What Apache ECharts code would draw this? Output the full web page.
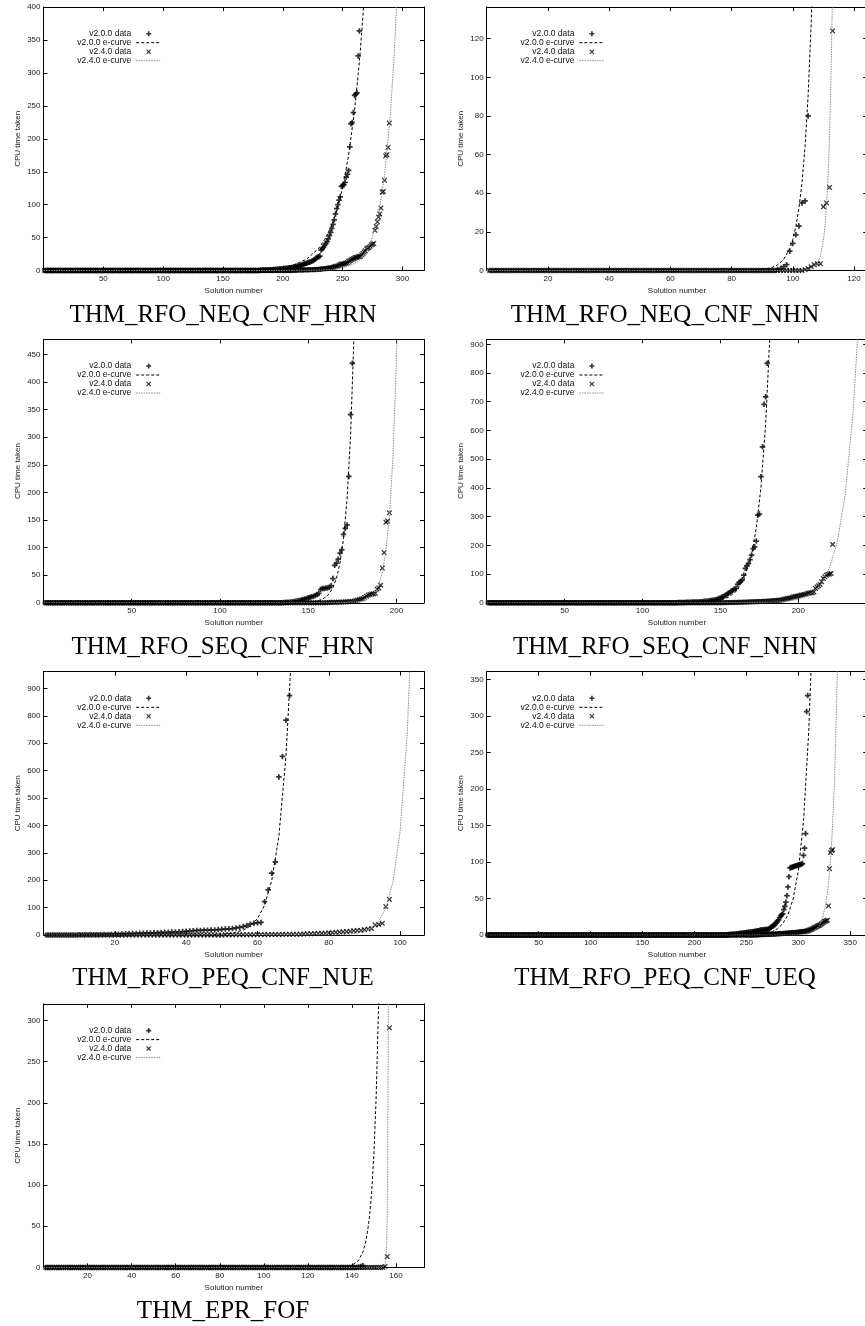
<!DOCTYPE html>
<html>
<head>
<meta charset="utf-8">
<title>CPU time taken per solution</title>
<script src="https://cdn.jsdelivr.net/npm/echarts@6/dist/echarts.min.js"></script>
<style>
  html, body { margin: 0; padding: 0; background: #fff; }
  #chart { width: 865px; height: 1326px; }
</style>
</head>
<body>
<div id="chart"></div>
<script>
// CPU time taken per solution number (one value per solution, from 1)
const neqHrn200 = [
  0,0,0,0,0,0,0,0,0,0, 0,0,0,0,0,0,0,0,0,0,
  0,0,0,0,0,0,0,0,0,0, 0,0,0,0,0,0,0,0,0,0,
  0,0,0,0,0,0,0,0,0,0, 0,0,0,0,0,0,0,0,0,0,
  0,0,0,0,0,0,0,0,0,0, 0,0,0,0,0,0,0,0,0,0,
  0,0,0,0,0,0,0,0,0,0, 0,0,0,0,0,0,0,0,0,0,
  0,0,0,0,0,0,0,0,0,0, 0,0,0,0,0,0,0,0,0,0,
  0,0,0,0,0,0,0,0,0,0, 0,0,0,0,0,0,0,0,0,0,
  0,0,0,0,0,0,0,0,0,0, 0,0,0,0,0,0,0,0,0,0,
  0,0,0,0,0,0,0,0,0,0, 0,0,0,0,0,0,0,0,0,0,
  0.5,0.5,0.6,0.7,0.8,0.9,1,1,1.1,1.2,1.3,1.4,1.5,1.6,1.8,
  2,2.2,2.4,2.6,2.8,3,3.2,3.4,3.6,3.8,4,4.2,4.5,5,5.5,
  6,6.5,7,7.5,8,8.5,9,10,10.5,11,12,12.5,13,14,15,
  16,17,19,20,21,22,31,33,35,38,41,44,48,53,58,64,70,77,86,94,100,107,112,128,129,130,134,
  142,146,152,188,223,225,240,266,268,270,326,364
];
const neqHrn240 = [
  0,0,0,0,0,0,0,0,0,0, 0,0,0,0,0,0,0,0,0,0,
  0,0,0,0,0,0,0,0,0,0, 0,0,0,0,0,0,0,0,0,0,
  0,0,0,0,0,0,0,0,0,0, 0,0,0,0,0,0,0,0,0,0,
  0,0,0,0,0,0,0,0,0,0, 0,0,0,0,0,0,0,0,0,0,
  0,0,0,0,0,0,0,0,0,0, 0,0,0,0,0,0,0,0,0,0,
  0,0,0,0,0,0,0,0,0,0, 0,0,0,0,0,0,0,0,0,0,
  0,0,0,0,0,0,0,0,0,0, 0,0,0,0,0,0,0,0,0,0,
  0,0,0,0,0,0,0,0,0,0, 0,0,0,0,0,0,0,0,0,0,
  0,0,0,0,0,0,0,0,0,0, 0,0,0,0,0,0,0,0,0,0,
  0,0,0,0,0,0,0,0,0,0, 0,0,0,0,0,0,0,0,0,0,
  0,0,0,0,0, 0,0,0,0,
  0.5,0.5,0.6,0.6,0.7,0.7,0.8,0.8,0.9,0.9,1,1,1.1,1.1,1.2,1.2,1.3,1.4,1.5,1.6,
  1.8,2,2.2,2.4,2.6,2.8,3,3.2,3.5,3.8,4,4.5,5,5.5,6,
  6.5,7,8,9,10,10,10,11,11,12,14,15,16,17,18,
  19,20,20,21,21,22,24,26,28,30,33,34,35,37,39,40,41,
  61,67,74,81,86,95,119,120,137,174,176,187,224
];
const neqNhn200 = [
  0,0,0,0,0,0,0,0,0,0, 0,0,0,0,0,0,0,0,0,0,
  0,0,0,0,0,0,0,0,0,0, 0,0,0,0,0,0,0,0,0,0,
  0,0,0,0,0,0,0,0,0,0, 0,0,0,0,0,0,0,0,0,0,
  0,0,0,0,0,0,0,0,0,0, 0,0,0,0,0,0,0,0,0,0,
  0,0,0,0,0,0,0,0,0,0, 0,0,0,0,
  0.5,1,2,3,10,14,18.5,23,35,36,80
];
const neqNhn240 = [
  0,0,0,0,0,0,0,0,0,0, 0,0,0,0,0,0,0,0,0,0,
  0,0,0,0,0,0,0,0,0,0, 0,0,0,0,0,0,0,0,0,0,
  0,0,0,0,0,0,0,0,0,0, 0,0,0,0,0,0,0,0,0,0,
  0,0,0,0,0,0,0,0,0,0, 0,0,0,0,0,0,0,0,0,0,
  0,0,0,0,0,0,0,0,0,0, 0,0,0,0,0,0,0,0,0,0,
  0,0,0,
  0.5,1,2,3,3.5,3.5,33,35,43,124
];
const seqHrn200 = [
  0,0,0,0,0,0,0,0,0,0, 0,0,0,0,0,0,0,0,0,0,
  0,0,0,0,0,0,0,0,0,0, 0,0,0,0,0,0,0,0,0,0,
  0,0,0,0,0,0,0,0,0,0, 0,0,0,0,0,0,0,0,0,0,
  0,0,0,0,0,0,0,0,0,0, 0,0,0,0,0,0,0,0,0,0,
  0,0,0,0,0,0,0,0,0,0, 0,0,0,0,0,0,0,0,0,0,
  0,0,0,0,0,0,0,0,0,0, 0,0,0,0,0,0,0,0,0,0,
  0,0,0,0,0,0,0,0,0,0, 0,0,0,0,0,
  0.5,0.7,1,1.2,1.5,2,2.5,3,3.5,4,
  5,6,7,8,9,10,11,12,13,15,17,
  24,26,26,27,27,28,31,44,68,72,79,90,96,124,135,141,229,341,434
];
const seqHrn240 = [
  0,0,0,0,0,0,0,0,0,0, 0,0,0,0,0,0,0,0,0,0,
  0,0,0,0,0,0,0,0,0,0, 0,0,0,0,0,0,0,0,0,0,
  0,0,0,0,0,0,0,0,0,0, 0,0,0,0,0,0,0,0,0,0,
  0,0,0,0,0,0,0,0,0,0, 0,0,0,0,0,0,0,0,0,0,
  0,0,0,0,0,0,0,0,0,0, 0,0,0,0,0,0,0,0,0,0,
  0,0,0,0,0,0,0,0,0,0, 0,0,0,0,0,0,0,0,0,0,
  0,0,0,0,0,0,0,0,0,0, 0,0,0,0,0,0,0,0,0,0,
  0,0,0,0,0,0,0,0,0,0, 0,0,0,0,0,0,0,0,0,0,
  0.5,0.6,0.7,0.8,0.9,1,1.1,1.2,1.3,1.4,1.5,1.7,1.9,2.2,2.5,
  3,4,5,6,7,8,10,12,14,15,16,16,17,25,27,32,
  63,91,146,148,163
];
const seqNhn200 = [
  0,0,0,0,0,0,0,0,0,0, 0,0,0,0,0,0,0,0,0,0,
  0,0,0,0,0,0,0,0,0,0, 0,0,0,0,0,0,0,0,0,0,
  0,0,0,0,0,0,0,0,0,0, 0,0,0,0,0,0,0,0,0,0,
  0,0,0,0,0,0,0,0,0,0, 0,0,0,0,0,0,0,0,0,0,
  0,0,0,0,0,0,0,0,0,0, 0,0,0,0,0,0,0,0,0,0,
  0,0,0,0,0,0,0,0,0,0, 0,0,0,0,0,0,0,0,0,0,
  0.5,0.6,0.7,0.8,1,1.2,1.4,1.6,1.8,2,2.2,2.4,2.6,2.8,3,
  3,3.5,4,4.5,5,5.5,6,7,8,9,
  10,11,12,15,17,20,22,25,29,33,36,41,44,48,50,
  64,71,75,80,96,120,129,137,150,166,189,195,215,305,309,439,543,691,717,834
];
const seqNhn240 = [
  0,0,0,0,0,0,0,0,0,0, 0,0,0,0,0,0,0,0,0,0,
  0,0,0,0,0,0,0,0,0,0, 0,0,0,0,0,0,0,0,0,0,
  0,0,0,0,0,0,0,0,0,0, 0,0,0,0,0,0,0,0,0,0,
  0,0,0,0,0,0,0,0,0,0, 0,0,0,0,0,0,0,0,0,0,
  0,0,0,0,0,0,0,0,0,0, 0,0,0,0,0,0,0,0,0,0,
  0,0,0,0,0,0,0,0,0,0, 0,0,0,0,0,0,0,0,0,0,
  0,0,0,0,0,0,0,0,0,0, 0,0,0,0,0,0,0,0,0,0,
  0,0,0,0,0,0,0,0,0,0,
  0.5,0.6,0.7,0.8,0.9,1,1.1,1.2,1.3,1.4,1.5,1.7,1.9,2.1,2.3,2.5,2.7,2.9,3.1,3.3,
  3.5,3.7,3.9,4.1,4.3,4.5,4.7,5,5.3,5.6,6,6.4,6.8,7.2,7.6,8,8.5,9,
  9.4,11,13,14,15,16,17,19,21,22,23,24,25,27,28,29,30,33,34,35,35,
  38,50,55,59,64,73,85,91,96,99,100,102,203
];
const peqNue200 = [
  0,0,0,0,0,0,0.5,0.5,0.5,1,1,1,1.5,1.5,1.5,2,2,2.5,2.5,
  3,3.5,4,4.5,5,5.5,6,6.5,7,7.5,8,
  8.5,9,9.5,10,10.5,11,11.5,12,13,14,15,
  16,17,17,18,18,19,19,20,21,
  22,23,24,26,28,31,35,
  40,43,45,46,122,165,226,267,577,652,784,874
];
const peqNue240 = [
  0,0,0,0,0,0,0,0,0,0, 0,0,0,0,0,0,0,0,0,0,
  0,0,0,0,0,0,0,0,0,0, 0,0,0,0,0,0,0,0,0,0,
  0,0,0,0,0,0,0,0,0,0,
  1,1,1.1,1.2,1.3,1.4,1.5,1.6,1.7,1.8,1.9,2,2.1,2.2,2.4,2.5,2.6,2.8,2.9,3,
  3,3.5,4,4.5,5,5.5,6,6.5,7,8,9,10,11,12,13,14,16,17,17,
  20,22,24,37,39,43,104,130
];
const peqUeq200 = [
  0,0,0,0,0,0,0,0,0,0, 0,0,0,0,0,0,0,0,0,0,
  0,0,0,0,0,0,0,0,0,0, 0,0,0,0,0,0,0,0,0,0,
  0,0,0,0,0,0,0,0,0,0, 0,0,0,0,0,0,0,0,0,0,
  0,0,0,0,0,0,0,0,0,0, 0,0,0,0,0,0,0,0,0,0,
  0,0,0,0,0,0,0,0,0,0, 0,0,0,0,0,0,0,0,0,0,
  0,0,0,0,0,0,0,0,0,0, 0,0,0,0,0,0,0,0,0,0,
  0,0,0,0,0,0,0,0,0,0, 0,0,0,0,0,0,0,0,0,0,
  0,0,0,0,0,0,0,0,0,0, 0,0,0,0,0,0,0,0,0,0,
  0,0,0,0,0,0,0,0,0,0, 0,0,0,0,0,0,0,0,0,0,
  0,0,0,0,0,0,0,0,0,0, 0,0,0,0,0,0,0,0,0,0,
  0,0,0,0,0,0,0,0,0,0, 0,0,0,0,0,0,0,0,0,0,
  0,0,0,0,0,0,0,0,0,0,
  0.5,0.6,0.7,0.8,0.9,1,1.1,1.2,1.3,1.5,1.7,1.9,2.1,2.3,2.5,2.7,2.9,3.1,3.3,3.5,
  3.6,3.8,4,4.2,4.4,4.6,4.8,5,5.3,5.6,6,6,6.5,7,7,7,7.3,7.5,7.5,7.8,8,8.3,
  10,11,12,12.8,14,16,17.4,19,21,24,26.6,28,29,35,39.5,45,54,66,80,
  92,92.5,93,93.5,94,94.5,95,95.5,96,96,96.5,97,98,109,119,139,306,328
];
const peqUeq240 = [
  0,0,0,0,0,0,0,0,0,0, 0,0,0,0,0,0,0,0,0,0,
  0,0,0,0,0,0,0,0,0,0, 0,0,0,0,0,0,0,0,0,0,
  0,0,0,0,0,0,0,0,0,0, 0,0,0,0,0,0,0,0,0,0,
  0,0,0,0,0,0,0,0,0,0, 0,0,0,0,0,0,0,0,0,0,
  0,0,0,0,0,0,0,0,0,0, 0,0,0,0,0,0,0,0,0,0,
  0,0,0,0,0,0,0,0,0,0, 0,0,0,0,0,0,0,0,0,0,
  0,0,0,0,0,0,0,0,0,0, 0,0,0,0,0,0,0,0,0,0,
  0,0,0,0,0,0,0,0,0,0, 0,0,0,0,0,0,0,0,0,0,
  0,0,0,0,0,0,0,0,0,0, 0,0,0,0,0,0,0,0,0,0,
  0,0,0,0,0,0,0,0,0,0, 0,0,0,0,0,0,0,0,0,0,
  0,0,0,0,0,0,0,0,0,0, 0,0,0,0,0,0,0,0,0,0,
  0,0,0,0,0,0,0,0,0,0, 0,0,0,0,0,0,0,0,0,0,
  0,0,0,0,0,0,0,0,0,0, 0,0,0,0,0,0,0,0,0,0,
  0.5,0.5,0.6,0.6,0.7,0.7,0.8,0.8,0.9,0.9,1,1,1.1,1.1,1.2,1.3,1.4,1.5,1.6,1.7,1.8,1.9,2,2.1,2.2,2.3,2.4,2.5,2.7,2.9,
  3,3.1,3.2,3.3,3.4,3.5,3.6,3.7,3.8,4,4.2,4.4,4.6,4.8,5,
  5,5.3,5.6,6,6.5,7,7.5,8.3,9,10,10.5,11,12,12.8,13,14,15.2,16,17.4,18.5,19,19.7,20.5,
  40,91,113,116,117
];
const eprFof200 = [
  0,0,0,0,0,0,0,0,0,0, 0,0,0,0,0,0,0,0,0,0,
  0,0,0,0,0,0,0,0,0,0, 0,0,0,0,0,0,0,0,0,0,
  0,0,0,0,0,0,0,0,0,0, 0,0,0,0,0,0,0,0,0,0,
  0,0,0,0,0,0,0,0,0,0, 0,0,0,0,0,0,0,0,0,0,
  0,0,0,0,0,0,0,0,0,0, 0,0,0,0,0,0,0,0,0,0,
  0,0,0,0,0,0,0,0,0,0, 0,0,0,0,0,0,0,0,0,0,
  0,0,0,0,0,0,0,0,0,0, 0,0,0,0,0,0,0,0,0,0,
  0,0,
  0.5,1,2
];
const eprFof240 = [
  0,0,0,0,0,0,0,0,0,0, 0,0,0,0,0,0,0,0,0,0,
  0,0,0,0,0,0,0,0,0,0, 0,0,0,0,0,0,0,0,0,0,
  0,0,0,0,0,0,0,0,0,0, 0,0,0,0,0,0,0,0,0,0,
  0,0,0,0,0,0,0,0,0,0, 0,0,0,0,0,0,0,0,0,0,
  0,0,0,0,0,0,0,0,0,0, 0,0,0,0,0,0,0,0,0,0,
  0,0,0,0,0,0,0,0,0,0, 0,0,0,0,0,0,0,0,0,0,
  0,0,0,0,0,0,0,0,0,0, 0,0,0,0,0,0,0,0,0,0,
  0,0,0,0,0,0,0,0,0,0, 0,0,0,0,
  1,13,291
];

// e-curves, [solution, cpu] points
const neqHrnFit200 = [[0,0],[150,0.17],[180,1.2],[200,4.7],[210,9.1],[220,17.4],[230,33.7],[235,47],[240,65],[245,90],[250,126],[255,175],[260,244],[263,298],[265,339],[268,413],[270,472]];
const neqHrnFit240 = [[0,0],[200,0.02],[230,0.5],[240,1.4],[250,3.9],[260,10.9],[265,18.2],[270,30],[275,51],[280,85],[285,143],[290,239],[293,325],[295,400],[297,491]];
const neqNhnFit200 = [[0,0],[85,0.09],[90,0.51],[93,1.44],[95,2.88],[97,5.73],[99,11.4],[100,16.1],[101,22.8],[102,32.2],[103,45.4],[104,64.1],[105,90.5],[106,127.8],[107,180.5]];
const neqNhnFit240 = [[0,0],[100,0.01],[104,0.17],[106,0.78],[107,1.64],[108,3.47],[109,7.35],[110,15.6],[110.5,22.6],[111,33],[111.5,48],[112,69.8],[112.5,101.5],[113,147.7]];
const seqHrnFit200 = [[0,0],[140,0.09],[150,0.96],[155,3.2],[158,6.5],[160,10.5],[162,17],[164,27.5],[166,44.4],[168,71.8],[170,116],[172,187.5],[174,303],[176,490],[177,621]];
const seqHrnFit240 = [[0,0],[170,0.18],[180,2.44],[184,6.9],[186,11.6],[188,19.5],[190,32.8],[192,55.3],[194,92.9],[196,156],[198,263],[200,442],[201,573]];
const seqNhnFit200 = [[0,0],[120,0.12],[130,0.51],[140,2.17],[145,4.49],[150,9.25],[155,19.1],[160,39.4],[165,81.4],[170,168],[173,260],[176,401],[179,620],[182,958],[184,1282]];
const seqNhnFit240 = [[0,0],[160,0.14],[180,1.34],[190,4.1],[195,7.3],[200,12.8],[205,22.4],[210,39.3],[215,69],[220,121],[225,212],[230,373],[235,654],[238,917],[240,1147]];
const peqNueFit200 = [[0,0],[30,0.01],[40,0.16],[45,0.69],[50,3.06],[53,7.5],[56,18.3],[58,33.2],[60,60.3],[62,109],[64,198.5],[66,360],[68,654],[69.5,1022],[70,1189]];
const peqNueFit240 = [[0,0],[70,0.02],[80,0.47],[85,2.5],[88,6.9],[90,13.4],[92,26.1],[94,51],[96,99.4],[98,194],[100,378],[102,737],[103.5,1216]];
const peqUeqFit200 = [[0,0],[220,0.01],[240,0.09],[250,0.28],[260,0.88],[270,2.8],[275,4.96],[280,8.8],[285,15.7],[290,27.8],[295,49.5],[300,88],[305,156],[310,278],[313,392]];
const peqUeqFit240 = [[0,0],[280,0.01],[300,0.28],[310,1.87],[315,4.85],[320,12.5],[323,22.2],[326,39.2],[329,69.3],[332,122.6],[335,216.7],[338,383],[340,560]];
const eprFofFit200 = [[0,0],[135,0.35],[140,2.55],[143,8.47],[145,18.9],[146,28.1],[147,42],[148,62.6],[149,93.4],[150,139.3],[151,207.9],[152,310],[153,462.7]];
const eprFofFit240 = [[0,0],[150,0],[153,0.004],[154,0.11],[154.5,0.54],[155,2.65],[155.5,13.2],[155.8,34.4],[156,65.2],[156.2,123.6],[156.4,234.4],[156.6,444.6]];

const panels = [
  { title: 'THM_RFO_NEQ_CNF_HRN', d200: neqHrn200, d240: neqHrn240, c200: neqHrnFit200, c240: neqHrnFit240, xMax: 318, xStep: 50, yMax: 400.4, yStep: 50 },
  { title: 'THM_RFO_NEQ_CNF_NHN', d200: neqNhn200, d240: neqNhn240, c200: neqNhnFit200, c240: neqNhnFit240, xMax: 124.3, xStep: 20, yMax: 136.4, yStep: 20 },
  { title: 'THM_RFO_SEQ_CNF_HRN', d200: seqHrn200, d240: seqHrn240, c200: seqHrnFit200, c240: seqHrnFit240, xMax: 215.6, xStep: 50, yMax: 477.4, yStep: 50 },
  { title: 'THM_RFO_SEQ_CNF_NHN', d200: seqNhn200, d240: seqNhn240, c200: seqNhnFit200, c240: seqNhnFit240, xMax: 244.2, xStep: 50, yMax: 917.4, yStep: 100 },
  { title: 'THM_RFO_PEQ_CNF_NUE', d200: peqNue200, d240: peqNue240, c200: peqNueFit200, c240: peqNueFit240, xMax: 106.7, xStep: 20, yMax: 961.4, yStep: 100 },
  { title: 'THM_RFO_PEQ_CNF_UEQ', d200: peqUeq200, d240: peqUeq240, c200: peqUeqFit200, c240: peqUeqFit240, xMax: 366.3, xStep: 50, yMax: 360.8, yStep: 50 },
  { title: 'THM_EPR_FOF', d200: eprFof200, d240: eprFof240, c200: eprFofFit200, c240: eprFofFit240, xMax: 172.7, xStep: 20, yMax: 320.1, yStep: 50 }
];

const FONT = 'Liberation Sans';
// gnuplot point types: plus and cross, drawn as filled outlines
const PLUS = 'path://M3.4,0H6.6V3.4H10V6.6H6.6V10H3.4V6.6H0V3.4H3.4Z';
const CROSS = 'path://M1.6,0L5,3.4L8.4,0L10,1.6L6.6,5L10,8.4L8.4,10L5,6.6L1.6,10L0,8.4L3.4,5L0,1.6Z';

const colLeft = [43.5, 486.7];
const rowTop = [7, 339.3, 671.6, 1003.9];
const plotW = 380.5, plotH = 263.5;
const titleX = [223, 665];
const titleY = [315, 647, 978.5, 1311.5];

const tickText = { fontFamily: FONT, fontSize: 8, color: '#1a1a1a' };
const frame = { show: true, onZero: false, lineStyle: { color: '#000', width: 1 } };
const ticks = { show: true, inside: true, length: 4, lineStyle: { color: '#000', width: 1 } };

const option = {
  animation: false,
  backgroundColor: '#fff',
  title: [], legend: [], grid: [], xAxis: [], yAxis: [], series: []
};

panels.forEach((p, i) => {
  const col = i % 2, row = Math.floor(i / 2);
  const left = colLeft[col], top = rowTop[row];

  option.grid.push({ left: left, top: top, width: plotW, height: plotH, containLabel: false, outerBoundsMode: 'none' });

  option.title.push({
    text: p.title, left: titleX[col], top: titleY[row], padding: 0,
    textAlign: 'center', textVerticalAlign: 'middle',
    textStyle: { fontFamily: 'Liberation Serif', fontSize: 25, fontWeight: 'normal', color: '#000' }
  });

  option.legend.push({
    orient: 'vertical', align: 'right', padding: 0,
    right: 865 - left - 118.2, top: top + 22.2,
    itemWidth: 25, itemHeight: 5, itemGap: 0, selectedMode: false,
    textStyle: { fontFamily: FONT, fontSize: 8.5, lineHeight: 8.33, color: '#111' },
    lineStyle: { width: 1 },
    data: [
      { name: 'v2.0.0 data' },
      { name: 'v2.0.0 e-curve', itemStyle: { opacity: 0 } },
      { name: 'v2.4.0 data' },
      { name: 'v2.4.0 e-curve', itemStyle: { opacity: 0 } }
    ]
  });

  const xBase = { type: 'value', gridIndex: i, min: 0, max: p.xMax, interval: p.xStep, axisLine: frame, axisTick: ticks, splitLine: { show: false } };
  option.xAxis.push(Object.assign({}, xBase, {
    position: 'bottom',
    axisLabel: Object.assign({ showMinLabel: false, showMaxLabel: false, margin: 4 }, tickText),
    name: 'Solution number', nameLocation: 'middle', nameGap: 16, nameTextStyle: tickText
  }));
  option.xAxis.push(Object.assign({}, xBase, { position: 'top', axisLabel: { show: false } }));

  const yBase = { type: 'value', gridIndex: i, min: 0, max: p.yMax, interval: p.yStep, axisLine: frame, axisTick: ticks, splitLine: { show: false } };
  option.yAxis.push(Object.assign({}, yBase, {
    position: 'left',
    axisLabel: Object.assign({ showMaxLabel: false, margin: 3 }, tickText),
    name: 'CPU time taken', nameLocation: 'middle', nameGap: 22, nameRotate: 90, nameTextStyle: tickText
  }));
  option.yAxis.push(Object.assign({}, yBase, { position: 'right', axisLabel: { show: false } }));

  const ax = { xAxisIndex: 2 * i, yAxisIndex: 2 * i, silent: true };
  option.series.push(
    Object.assign({
      name: 'v2.0.0 data', type: 'scatter', symbol: PLUS, symbolSize: 5.5,
      itemStyle: { color: '#000' },
      data: p.d200.map((v, k) => [k + 1, v])
    }, ax),
    Object.assign({
      name: 'v2.0.0 e-curve', type: 'line', symbol: 'none', showSymbol: false,
      lineStyle: { color: '#000', width: 1, type: [3, 2] }, itemStyle: { color: '#000' },
      data: p.c200
    }, ax),
    Object.assign({
      name: 'v2.4.0 data', type: 'scatter', symbol: CROSS, symbolSize: 5.5,
      itemStyle: { color: '#000' },
      data: p.d240.map((v, k) => [k + 1, v])
    }, ax),
    Object.assign({
      name: 'v2.4.0 e-curve', type: 'line', symbol: 'none', showSymbol: false,
      lineStyle: { color: '#8c8c8c', width: 1, type: [1.5, 1] }, itemStyle: { color: '#8c8c8c' },
      data: p.c240
    }, ax)
  );
});

const chart = echarts.init(document.getElementById('chart'));
chart.setOption(option);
</script>
</body>
</html>
